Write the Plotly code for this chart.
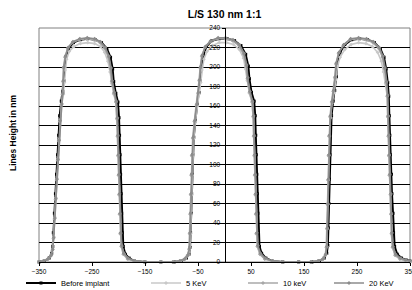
import plotly.graph_objects as go

# ---- data ----
series_names = ["Before implant", "5 KeV", "10 keV", "20 KeV"]

x_before = [-350,-340,-331,-326,-324,-323,-321,-319,-317,-315,-313,-311,-308,-305,-303,-302,-299,-294,-285,-272,-258,-244,-232,-222,-215,-211,-209,-205,-201,-199,-198,-197,-196,-195,-194,-193,-191,-187,-180,-170,-150,-120,-95,-82,-72,-67,-65,
            -64,-63,-62,-61,-60,-58,-55,-51,-48,-46,-44,-40,-34,-24,-10,5,19,31,40,45,47,51,56,58,59,60,61,62,63,64,66,70,78,90,110,140,165,179,188,193,195,
            196,197,198,199,200,202,205,208,211,213,218,227,240,255,270,283,294,301,305,308,310,311,312,313,315,316,318,319,321,326,334,343,350]
y_before = [0,1,4,9,16,30,50,70,90,110,130,150,165,175,186,200,211,219,225,228,229,228,225,219,210,198,185,173,164,148,130,110,90,70,50,30,16,8,4,1,0,0,0,1,4,8,15,
            30,50,70,90,110,128,145,162,174,186,200,212,221,227,229,229,227,222,213,201,188,174,165,150,130,110,90,70,50,30,16,9,4,1,0,0,0,1,4,9,17,
            35,60,85,110,130,150,165,176,190,204,215,223,228,229,228,225,219,210,198,184,170,150,130,110,90,70,50,30,16,8,4,2,1]

x_5kev = [-350,-341,-333,-327,-324,-322,-320,-318,-316,-314,-312,-310,-307,-304,-302,-301,-298,-293,-284,-272,-258,-245,-234,-226,-220,-216,-213,-209,-205,-203,-202,-201,-200,-199,-198,-196,-194,-189,-181,-170,-150,-120,-96,-83,-74,-68,-65,
          -64,-63,-62,-61,-60,-58,-55,-51,-48,-45,-43,-39,-33,-23,-10,4,17,28,36,40,43,47,52,54,55,56,57,58,59,60,62,67,76,89,110,140,163,177,186,191,193,
          194,195,196,197,198,200,203,207,210,213,218,227,239,253,267,279,289,296,300,304,307,308,309,310,311,313,314,315,317,322,331,341,350]
y_5kev = [0,1,3,7,13,26,46,66,86,106,126,146,162,172,184,197,208,216,221,224,225,224,221,215,206,195,183,172,164,147,129,109,89,69,49,29,16,8,3,1,0,0,0,1,3,7,14,
          29,49,69,89,109,127,144,160,172,184,197,208,216,222,225,225,223,218,209,198,186,173,164,149,129,109,89,69,49,29,16,8,3,1,0,0,0,1,3,8,16,
          34,59,84,109,129,148,163,174,187,200,210,218,223,225,224,221,215,206,195,183,170,149,129,109,89,69,49,29,15,7,3,1,0]

x_10kev = [-350,-342,-334,-328,-325,-323,-321,-319,-317,-315,-313,-311,-308,-306,-305,-304,-301,-296,-287,-274,-260,-246,-235,-226,-219,-215,-213,-209,-205,-203,-202,-201,-200,-199,-198,-197,-195,-191,-183,-171,-150,-120,-98,-85,-76,-70,-67,
           -66,-65,-64,-63,-62,-60,-57,-53,-50,-48,-46,-43,-37,-27,-13,1,15,27,36,41,43,47,52,54,55,56,57,58,59,60,62,67,76,89,110,140,162,176,185,190,192,
           193,194,195,196,197,199,202,205,208,210,215,224,237,252,267,280,291,298,302,305,307,308,309,310,311,313,314,315,317,322,331,341,350]
y_10kev = [0,1,3,6,12,24,44,64,84,104,124,144,161,172,185,199,210,219,225,228,229,228,225,219,210,198,185,173,164,147,129,109,89,69,49,29,16,8,3,1,0,0,0,1,3,7,13,
           29,49,69,89,109,127,144,161,173,186,199,211,220,226,229,229,227,222,213,201,188,174,164,149,129,109,89,69,49,29,16,8,3,1,0,0,0,1,3,7,15,
           34,59,84,109,129,149,164,175,189,203,214,222,228,229,228,225,219,210,198,184,170,149,129,109,89,69,49,29,15,7,3,1,0]

x_20kev = [-350,-341,-333,-327,-324,-322,-320,-318,-316,-314,-312,-310,-307,-305,-304,-303,-300,-295,-286,-273,-259,-245,-234,-225,-218,-214,-212,-208,-204,-202,-201,-200,-199,-198,-197,-196,-194,-190,-182,-170,-150,-120,-97,-84,-75,-69,-66,
           -65,-64,-63,-62,-61,-59,-56,-52,-49,-47,-45,-42,-36,-26,-12,2,16,28,37,42,44,48,53,55,56,57,58,59,60,61,63,68,77,90,110,140,163,177,186,191,193,
           194,195,196,197,198,200,203,206,209,211,216,225,238,253,268,281,292,299,303,306,308,309,310,311,312,314,315,316,318,323,332,342,350]
y_20kev = [0,1,3,7,13,25,45,65,85,105,125,145,162,173,186,200,211,220,226,229,230,229,226,220,211,199,186,174,165,148,130,110,90,70,50,30,17,9,4,1,0,0,0,1,3,7,14,
           30,50,70,90,110,128,145,162,174,187,200,212,221,227,230,230,228,223,214,202,189,175,165,150,130,110,90,70,50,30,17,9,4,1,0,0,0,1,3,8,16,
           35,60,85,110,130,150,165,176,190,204,215,223,229,230,229,226,220,211,199,185,171,150,130,110,90,70,50,30,16,8,4,2,1]

x_tickvals = [-350, -250, -150, -50, 50, 150, 250, 350]
y_tickvals = list(range(0, 241, 20))

# ---- styles ----
FONT = "Liberation Sans, Arial, sans-serif"
series_x = [x_before, x_5kev, x_10kev, x_20kev]
series_y = [y_before, y_5kev, y_10kev, y_20kev]
colors = ["#000000", "#c8c8c8", "#a8a8a8", "#8c8c8c"]
symbols = ["square", "diamond", "diamond", "diamond"]
widths = [2, 1.6, 1.6, 1.6]
msizes = [3, 3, 3, 3]
legend_ids = ["legend", "legend2", "legend3", "legend4"]
legend_x_px = [21, 146, 243, 329]

fig = go.Figure()
for i in range(4):
    assert len(series_x[i]) == len(series_y[i])
    fig.add_trace(go.Scatter(
        x=series_x[i], y=series_y[i], mode="lines+markers", name=series_names[i],
        line=dict(color=colors[i], width=widths[i]),
        marker=dict(color=colors[i], size=msizes[i], symbol=symbols[i], line=dict(width=0)),
        legend=legend_ids[i], showlegend=True, cliponaxis=False,
    ))

L, R, T, B = 39, 2, 28, 28
W, H = 412, 290
pw = W - L - R
ph = H - T - B

layout = dict(
    width=W, height=H,
    margin=dict(l=L, r=R, t=T, b=B, autoexpand=False),
    paper_bgcolor="white", plot_bgcolor="white",
    font=dict(family=FONT, size=7, color="#000"),
    title=dict(text="L/S 130 nm 1:1", font=dict(family=FONT, size=10.5, color="#000", weight="bold"),
               x=0.5, xref="paper", xanchor="center", y=1 - 14 / H, yref="container", yanchor="middle"),
    xaxis=dict(range=[-350, 350], tickvals=x_tickvals, showgrid=False, zeroline=False, automargin=False,
               showline=True, linecolor="#000", linewidth=1, ticks="outside", ticklen=3,
               tickcolor="#000", tickfont=dict(size=6.5, color="#000"), ticklabeloverflow="allow"),
    yaxis=dict(range=[0, 240], tickvals=y_tickvals, showgrid=True, gridcolor="#000", gridwidth=1,
               zeroline=False, anchor="free", position=0.5, showline=True, linecolor="#000",
               linewidth=1, ticks="outside", ticklen=3, tickcolor="#000", automargin=False,
               tickfont=dict(size=6.5, color="#000")),
    shapes=[dict(type="rect", xref="paper", yref="paper", x0=0, x1=1, y0=0, y1=1,
                 line=dict(color="#808080", width=1), layer="below")],
    annotations=[dict(text="Lines Height in nm", xref="paper", yref="paper",
                      x=(13 - L) / pw, y=(H - B - 133) / ph, textangle=-90, showarrow=False,
                      xanchor="center", yanchor="middle",
                      font=dict(family=FONT, size=8.5, color="#000", weight="bold"))],
)
for i, lid in enumerate(legend_ids):
    layout[lid] = dict(orientation="h", x=legend_x_px[i] / W, xref="container", xanchor="left",
                       y=1 - 283 / H, yref="container", yanchor="middle",
                       font=dict(family=FONT, size=7.5, color="#000"), bgcolor="rgba(0,0,0,0)",
                       itemwidth=30)
fig.update_layout(**layout)
fig.write_html("out.html", config={"displayModeBar": False},
               post_script="document.body.style.margin='0';document.body.style.padding='0';")
